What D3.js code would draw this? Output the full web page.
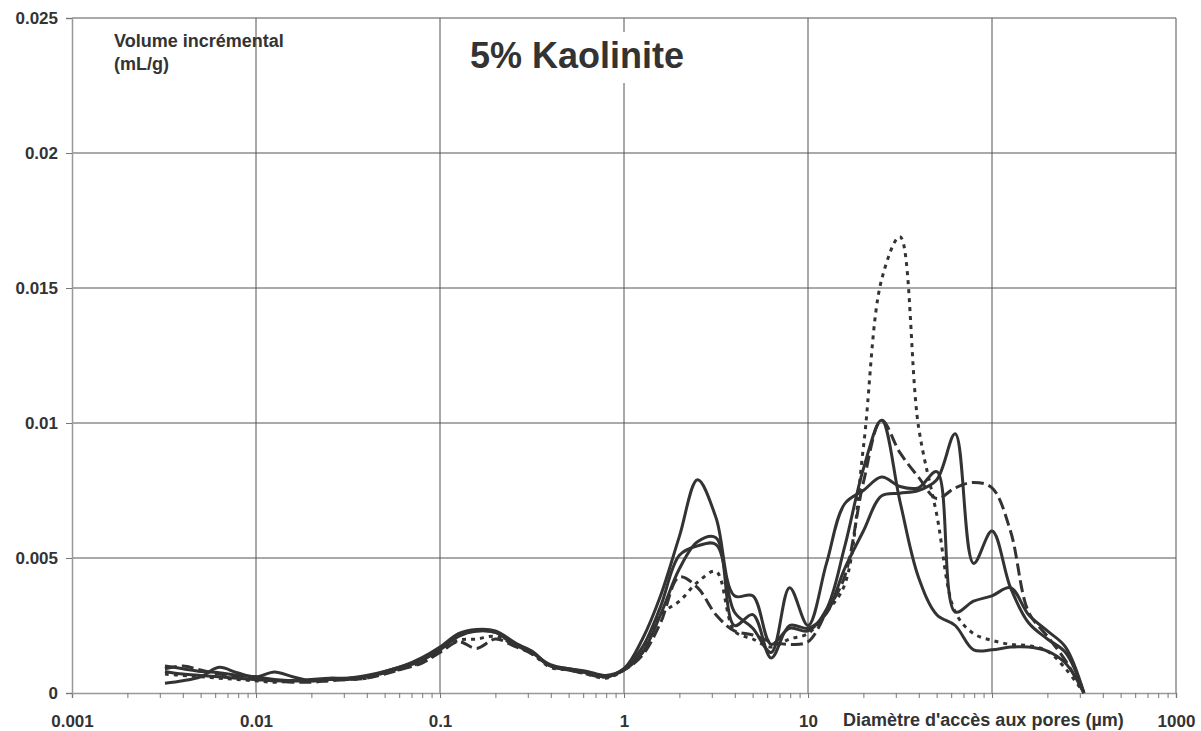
<!DOCTYPE html>
<html>
<head>
<meta charset="utf-8">
<script src="https://cdn.jsdelivr.net/npm/d3@7"></script>
<style>
	body { margin: 0; background: #fff; }
	text { font-family: "Liberation Sans", Arial, sans-serif; font-weight: bold; fill: #333; }
</style>
</head>
<body>
<svg width="1201" height="731"></svg>
<script>
// pore diameters (µm), shared by every curve
var diameters = [0.0032, 0.004, 0.005, 0.0063, 0.0079, 0.01, 0.0126, 0.0158, 0.02, 0.0251, 0.0316, 0.0398, 0.0501, 0.0631, 0.0794,
	0.1, 0.126, 0.158, 0.2, 0.251, 0.316, 0.398, 0.501, 0.631, 0.794,
	1, 1.26, 1.58, 2, 2.51, 3.16, 3.98, 5.01, 6.31, 7.94,
	10, 12.6, 15.8, 20, 25.1, 31.6, 39.8, 50.1, 63.1, 79.4,
	100, 126, 158, 200, 251, 316];

// incremental volume (mL/g)
var volSolid1 = [0.0010, 0.0009, 0.0008, 0.00075, 0.00065, 0.0006, 0.0005, 0.00045, 0.00045, 0.0005, 0.00055, 0.0006, 0.0008, 0.0010, 0.0013,
	0.0017, 0.0022, 0.00235, 0.0023, 0.0019, 0.0015, 0.00105, 0.0009, 0.0008, 0.00065,
	0.0009, 0.0020, 0.0036, 0.0058, 0.0079, 0.0065, 0.0036, 0.0036, 0.0018, 0.0024,
	0.0023, 0.0031, 0.0054, 0.0083, 0.0101, 0.0071, 0.0043, 0.0029, 0.0025, 0.0016,
	0.0016, 0.0017, 0.0017, 0.00155, 0.0011, 0];
var volSolid2 = [0.00036, 0.00045, 0.0006, 0.00095, 0.00075, 0.0006, 0.00078, 0.0006, 0.00045, 0.0005, 0.0005, 0.0006, 0.00075, 0.00095, 0.0012,
	0.0016, 0.0021, 0.0023, 0.00225, 0.0018, 0.0015, 0.0010, 0.00085, 0.00075, 0.0006,
	0.00085, 0.0015, 0.0029, 0.0046, 0.0056, 0.00575, 0.0025, 0.0029, 0.0013, 0.0025,
	0.0024, 0.00295, 0.0046, 0.0060, 0.0073, 0.0074, 0.0075, 0.0079, 0.0096, 0.0048,
	0.0060, 0.0039, 0.0026, 0.0020, 0.0015, 0];
var volSolid3 = [0.0008, 0.0007, 0.00065, 0.0006, 0.00055, 0.0005, 0.00045, 0.00045, 0.0005, 0.00055, 0.00055, 0.00065, 0.0008, 0.0010, 0.00125,
	0.00165, 0.00215, 0.0023, 0.00225, 0.00185, 0.00155, 0.0010, 0.0009, 0.00075, 0.0006,
	0.0009, 0.0017, 0.0032, 0.0051, 0.00545, 0.0055, 0.0030, 0.0024, 0.0015, 0.0039,
	0.0025, 0.0048, 0.0070, 0.0075, 0.0080, 0.00765, 0.0076, 0.0082, 0.0030, 0.0034,
	0.0036, 0.0039, 0.0029, 0.0023, 0.0017, 0];
var volDashed = [0.0009, 0.0010, 0.00085, 0.0007, 0.0006, 0.0005, 0.00045, 0.0004, 0.0004, 0.00045, 0.0005, 0.00055, 0.0007, 0.0009, 0.0011,
	0.0015, 0.0019, 0.00165, 0.0020, 0.00175, 0.00145, 0.0010, 0.00085, 0.0007, 0.0006,
	0.00085, 0.0014, 0.0026, 0.0043, 0.0039, 0.0029, 0.0023, 0.00215, 0.0019, 0.0018,
	0.0019, 0.0030, 0.0043, 0.0078, 0.0101, 0.0089, 0.0080, 0.0072, 0.0076, 0.0078,
	0.0076, 0.0060, 0.0030, 0.0021, 0.0012, 0];
var volDotted = [0.0007, 0.00065, 0.0006, 0.00055, 0.0005, 0.00045, 0.0004, 0.00045, 0.0005, 0.0005, 0.0005, 0.00055, 0.00075, 0.0009, 0.00115,
	0.00155, 0.00195, 0.0020, 0.0021, 0.0018, 0.00145, 0.00095, 0.00085, 0.0007, 0.00055,
	0.00085, 0.0015, 0.0029, 0.0034, 0.0041, 0.0045, 0.0023, 0.0020, 0.0017, 0.0020,
	0.0022, 0.0030, 0.0040, 0.0091, 0.0153, 0.0169, 0.0099, 0.0066, 0.0030, 0.0022,
	0.00195, 0.0018, 0.00175, 0.00155, 0.0009, 0];

var xTickValues = [0.001, 0.01, 0.1, 1, 10, 100, 1000];
// the 100 label is not printed: the axis title sits there
var xTickLabels = ["0.001", "0.01", "0.1", "1", "10", "", "1000"];
var yTickValues = [0, 0.005, 0.01, 0.015, 0.02, 0.025];
var yTickLabels = ["0", "0.005", "0.01", "0.015", "0.02", "0.025"];

var series = [
	{ name: "s1", vals: volSolid1, dash: null },
	{ name: "s2", vals: volSolid2, dash: null },
	{ name: "s3", vals: volSolid3, dash: null },
	{ name: "dashed", vals: volDashed, dash: "12,5" },
	{ name: "dotted", vals: volDotted, dash: "4,5" }
];

var svg = d3.select("svg");
var plotL = 72, plotR = 1176, plotT = 18, plotB = 693;

var x = d3.scaleLog().domain([0.001, 1000]).range([plotL, plotR]);
var y = d3.scaleLinear().domain([0, 0.025]).range([plotB, plotT]);

// minor ticks 1..9 for every decade
var minor = [];
xTickValues.forEach(function(dec, i) {
	if (i == xTickValues.length - 1) { minor.push(dec); return; }
	for (var k = 1; k < 10; k++) minor.push(+(dec * k).toPrecision(3));
});

// grid
var grid = svg.append("g").attr("class", "grid");
grid.selectAll("line.v").data(xTickValues.slice(1)).enter().append("line")
	.attr("x1", function(d) { return x(d); }).attr("x2", function(d) { return x(d); })
	.attr("y1", plotT).attr("y2", plotB)
	.attr("stroke", "#555").attr("stroke-width", 1);
grid.selectAll("line.h").data(yTickValues.slice(1)).enter().append("line")
	.attr("x1", plotL).attr("x2", plotR)
	.attr("y1", function(d) { return y(d); }).attr("y2", function(d) { return y(d); })
	.attr("stroke", "#555").attr("stroke-width", 1);

// axes
var xAxis = d3.axisBottom(x).tickValues(minor).tickSize(5).tickPadding(17)
	.tickFormat(function(d) {
		var i = xTickValues.indexOf(d);
		return i < 0 ? "" : xTickLabels[i];
	});
var gx = svg.append("g").attr("transform", "translate(0," + plotB + ")").call(xAxis);
gx.select(".domain").attr("stroke", "#999").attr("stroke-width", 1.5);
gx.selectAll(".tick line").attr("stroke", "#777");
gx.selectAll("text").style("font-size", "17px").attr("fill", "#333");

var yAxis = d3.axisLeft(y).tickValues(yTickValues).tickSize(6).tickPadding(8)
	.tickFormat(function(d, i) { return yTickLabels[i]; });
var gy = svg.append("g").attr("transform", "translate(" + plotL + ",0)").call(yAxis);
gy.select(".domain").attr("stroke", "#999").attr("stroke-width", 1.5);
gy.selectAll(".tick line").attr("stroke", "#777");
gy.selectAll("text").style("font-size", "17px").attr("fill", "#333");

// curves
var line = d3.line()
	.x(function(d) { return x(d[0]); })
	.y(function(d) { return y(d[1]); })
	.curve(d3.curveCatmullRom.alpha(0.5));

svg.append("g").selectAll("path").data(series).enter().append("path")
	.attr("d", function(s) { return line(diameters.map(function(dd, i) { return [dd, s.vals[i]]; })); })
	.attr("fill", "none")
	.attr("stroke", "#333")
	.attr("stroke-width", 3)
	.attr("stroke-linejoin", "round")
	.attr("stroke-dasharray", function(s) { return s.dash; });

// title with white box over the grid
svg.append("rect").attr("x", 458).attr("y", 32).attr("width", 240).attr("height", 51).attr("fill", "#fff");
svg.append("text").attr("x", 577).attr("y", 68).attr("text-anchor", "middle")
	.style("font-size", "36px").text("5% Kaolinite");

// axis titles
svg.append("text").attr("x", 114).attr("y", 47).style("font-size", "18px").text("Volume incrémental");
svg.append("text").attr("x", 114).attr("y", 70).style("font-size", "18px").text("(mL/g)");

svg.append("text").attr("x", 843).attr("y", 726).style("font-size", "18px").text("Diamètre d'accès aux pores (µm)");
</script>
</body>
</html>
